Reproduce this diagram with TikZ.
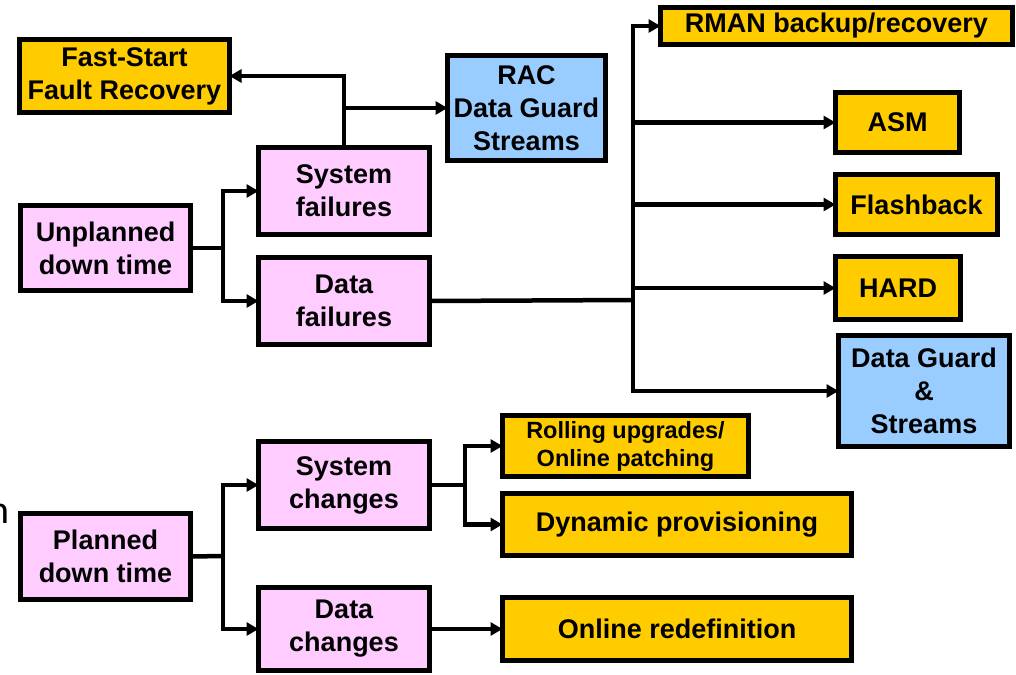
\documentclass[tikz,border=0pt]{standalone}
\usepackage{fontspec}
\setmainfont{Liberation Sans}
\newfontfamily\fragfont{Carlito}
\usetikzlibrary{arrows.meta}
\definecolor{ybox}{HTML}{FFCC00}
\definecolor{pbox}{HTML}{FFCCFF}
\definecolor{bbox}{HTML}{99CCFF}
\tikzset{
 box/.style={draw=black, line width=5pt, align=center, inner sep=0pt, outer sep=0pt,
   font=\bfseries\fontsize{27}{33}\selectfont},
 ybx/.style={box, fill=ybox},
 pbx/.style={box, fill=pbox},
 bbx/.style={box, fill=bbox},
 wire/.style={line width=4.5pt, line join=miter},
 conn/.style={wire, -{Triangle[length=12pt,width=13pt]}},
 thinconn/.style={line width=3.5pt, -{Triangle[length=12pt,width=13pt]}},
}
\begin{document}
\begin{tikzpicture}[x=1pt,y=-1pt]
\useasboundingbox (0,0) rectangle (1016,674);
% nodes
\node[ybx, minimum width=210pt, minimum height=73pt] (fsfr) at (124.5,76) {Fast-Start\\Fault Recovery};
\node[bbx, minimum width=158pt, minimum height=105pt] (rac) at (526.5,108) {RAC\\Data Guard\\Streams};
\node[ybx, minimum width=352pt, minimum height=37pt] (rman) at (836.5,26) {RMAN backup/recovery};
\node[ybx, minimum width=124pt, minimum height=60pt] (asm) at (897.5,122.5) {ASM};
\node[ybx, minimum width=162pt, minimum height=60pt] (flash) at (916.5,204.5) {Flashback};
\node[ybx, minimum width=125pt, minimum height=63pt] (hard) at (898,288) {HARD};
\node[bbx, minimum width=171pt, minimum height=111pt] (dgs) at (924,391) {Data Guard\\\&\\Streams};
\node[pbx, minimum width=170pt, minimum height=85pt] (unpl) at (105.5,248) {Unplanned\\down time};
\node[pbx, minimum width=171pt, minimum height=87pt] (sysf) at (344,191) {System\\failures};
\node[pbx, minimum width=171pt, minimum height=87pt] (dataf) at (344,301) {Data\\failures};
\node[pbx, minimum width=170pt, minimum height=86pt] (plan) at (105.5,556.5) {Planned\\down time};
\node[pbx, minimum width=171pt, minimum height=87pt] (sysc) at (344,485) {System\\changes};
\node[pbx, minimum width=171pt, minimum height=83pt] (datac) at (344,629) {Data\\changes};
\node[ybx, minimum width=246pt, minimum height=61pt, font=\bfseries\fontsize{23.5}{28}\selectfont] (roll) at (625.5,446) {Rolling upgrades/\\Online patching};
\node[ybx, minimum width=349pt, minimum height=62pt] (dyn) at (677,524.5) {Dynamic provisioning};
\node[ybx, minimum width=349pt, minimum height=63pt] (onl) at (677,629) {Online redefinition};
\node[font=\fragfont\fontsize{40}{48}\selectfont, anchor=base east, inner sep=0pt] (frag) at (10,523) {n};
% junctions
\coordinate (j1) at (223,248);
\coordinate (j2) at (344,108);
\coordinate (j3) at (633,300);
\coordinate (j4) at (223,556);
\coordinate (j5) at (465,485);
% connectors
\draw[wire] (unpl.east) -- (j1);
\draw[conn] (j1) |- (sysf.west);
\draw[conn] (j1) |- (dataf.west);
\draw[conn] (sysf.north) |- (fsfr.east);
\draw[conn] (j2) -- (rac.west);
\draw[wire] (dataf.east) -- (j3);
\draw[conn] (j3) |- (rman.west);
\draw[conn] (j3) |- (asm.west);
\draw[conn] (j3) |- (flash.west);
\draw[conn] (j3) |- (hard.west);
\draw[conn] (j3) |- (dgs.west);
\draw[wire] (plan.east) -- (j4);
\draw[conn] (j4) |- (sysc.west);
\draw[conn] (j4) |- (datac.west);
\draw[wire] (sysc.east) -- (j5);
\draw[conn] (j5) |- (roll.west);
\draw[conn] (j5) |- (dyn.west);
\draw[thinconn] (datac.east) -- (onl.west);
\end{tikzpicture}
\end{document}
